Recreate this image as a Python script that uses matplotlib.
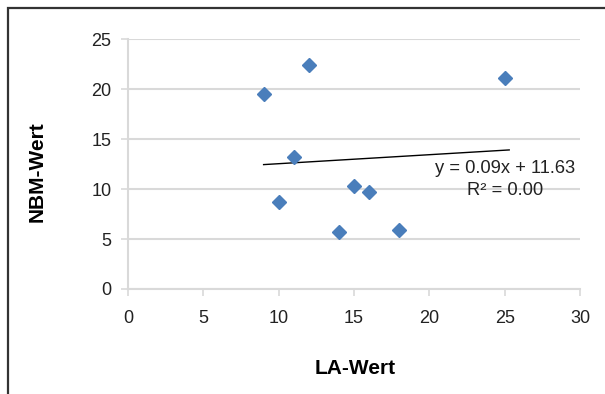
import numpy as np
import matplotlib.pyplot as plt
from matplotlib.patches import Rectangle

plt.rcParams['font.family'] = ['Liberation Sans', 'DejaVu Sans']

# LA / NBM pairs
la_wert = [9, 10, 11, 12, 14, 15, 16, 18, 25]
nbm_wert = [19.5, 8.7, 13.2, 22.4, 5.7, 10.3, 9.7, 5.9, 21.1]

# linear trend as printed on the chart
slope = 0.09
intercept = 11.63
r_squared = 0.00

x_ticks = [0, 5, 10, 15, 20, 25, 30]
y_ticks = [0, 5, 10, 15, 20, 25]

fig = plt.figure(figsize=(6.05, 3.94), dpi=100)
ax = fig.add_axes([0.2116, 0.2665, 0.7471, 0.6345])

grid_col = '#d9d9d9'
ax.set_xlim(0, 30)
ax.set_ylim(0, 25)
ax.set_xticks(x_ticks)
ax.set_yticks(y_ticks)
ax.yaxis.grid(True, color=grid_col, linewidth=1.5)
ax.set_axisbelow(True)

for side in ['top', 'right']:
    ax.spines[side].set_visible(False)
for side in ['left', 'bottom']:
    ax.spines[side].set_color(grid_col)
    ax.spines[side].set_linewidth(1.5)
ax.spines['left'].set_zorder(0)

ax.tick_params(axis='x', direction='out', length=5, width=1.2, color=grid_col,
               pad=10, labelsize=13, labelcolor='#222222')
ax.tick_params(axis='y', direction='out', length=5, width=1.2, color=grid_col,
               pad=7, labelsize=13, labelcolor='#222222')

ax.plot(la_wert, nbm_wert, linestyle='none', marker='D', ms=6.8,
        color='#4a7ebb', zorder=3)

xs = np.array([min(la_wert), max(la_wert) + 0.3])
ax.plot(xs, slope * xs + intercept, color='black', linewidth=1, zorder=2)

ax.text(25, 10.95, 'y = %.2fx + %.2f\nR² = %.2f' % (slope, intercept, r_squared),
        ha='center', va='center', fontsize=13.2, color='#222222',
        linespacing=1.45, zorder=4)

fig.text(355 / 605, 1 - 369 / 394, 'LA-Wert', ha='center', va='center',
         fontsize=15, fontweight='bold')
fig.text(37 / 605, 1 - 172 / 394, 'NBM-Wert', ha='center', va='center',
         rotation=90, fontsize=15, fontweight='bold')

# outer chart frame, running off the right and bottom edges
fig.patches.append(Rectangle((7.5 / 605, -0.2), 1.2, 1.2 - 7.5 / 394,
                             transform=fig.transFigure, fill=False,
                             edgecolor='#333333', linewidth=1.6))

fig.savefig('out.png', dpi=100)
